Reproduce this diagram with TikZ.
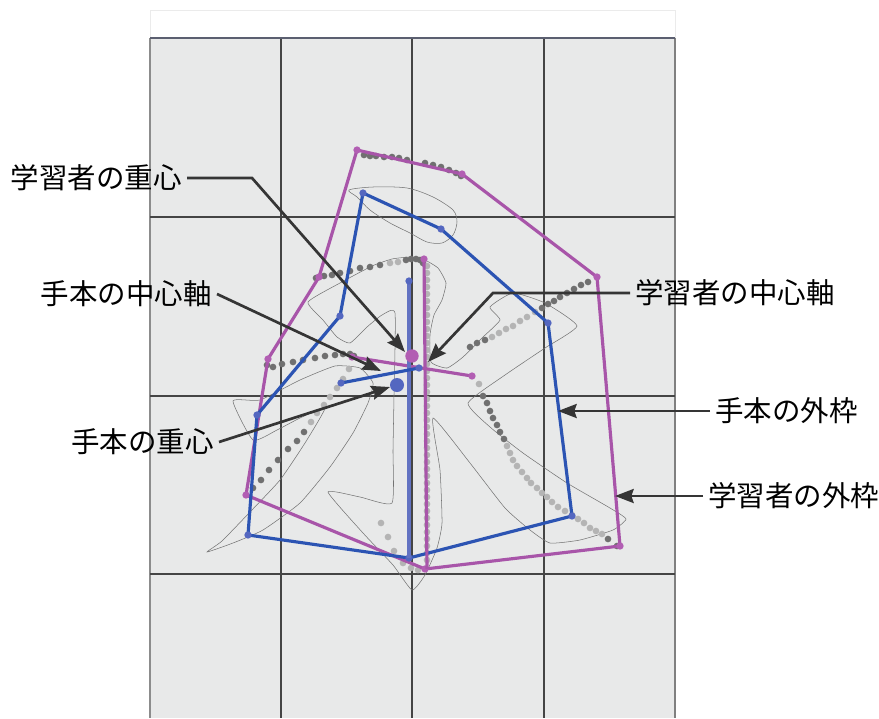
\documentclass[tikz,border=0pt]{standalone}
\usepackage{fontspec}
\newfontfamily\jpfont{Noto Sans CJK JP}
\usepackage{tikz}
\usetikzlibrary{arrows.meta}

\definecolor{learnerc}{HTML}{A855A9}
\definecolor{learnerdot}{HTML}{B25EB3}
\definecolor{samplec}{HTML}{2C54B3}
\definecolor{sampledot}{HTML}{5467C0}
\definecolor{sampleaxis}{HTML}{6272C2}
\definecolor{panelc}{HTML}{E8E9E9}
\definecolor{gridc}{HTML}{454545}
\definecolor{topline}{HTML}{5B5F70}
\definecolor{dotdk}{HTML}{707070}
\definecolor{dotlt}{HTML}{B4B4B4}
\definecolor{calloutc}{HTML}{353535}

\begin{document}
\begin{tikzpicture}[x=0.3mm,y=-0.3mm,
  lbl/.style={font=\jpfont\fontsize{24.3}{29}\selectfont,inner ysep=0pt,inner xsep=1.5mm},
  callout/.style={calloutc,line width=2.3pt,-{Stealth[length=5.6mm,width=4.2mm,inset=0.7mm]}},
  learner/.style={learnerc,line width=2.7pt,line join=round},
  sample/.style={samplec,line width=2.7pt,line join=round},
  gridline/.style={gridc,line width=0.9pt},
  brush/.style={black!55,line width=0.45pt}]
\fill[white] (0,0) rectangle (879,718);
\useasboundingbox (0,0) rectangle (879,718);

% panel and grid
\draw[black!8,line width=0.6pt] (150,10) rectangle (675,38);
\fill[panelc] (150,38) rectangle (675,718);
\draw[black!45,line width=0.9pt] (150,38)--(150,718);
\draw[black!50,line width=1.4pt] (675,38)--(675,718);
\foreach \gx in {281,412,544} \draw[gridline] (\gx,38)--(\gx,718);
\foreach \gy in {217,396,574} \draw[gridline] (150,\gy)--(675,\gy);
\draw[topline,line width=1.6pt] (150,38)--(675,38);

% outline of the model character
\draw[brush] plot[smooth cycle,tension=0.5] coordinates {(349,190) (373,187) (407,188) (433,197)
  (453,210) (457,222) (453,235) (442,243) (427,242) (410,233) (390,223) (370,210) (357,197)};
\draw[brush] plot[smooth cycle,tension=0.3] coordinates {(308,302) (340,283) (372,266) (392,259)
  (410,257) (423,259) (438,268) (446,283) (442,300) (434,315) (430,335) (431,362) (447,368)
  (463,357) (483,337) (500,320) (490,307) (513,293) (545,303) (577,326) (545,348) (505,375)
  (468,403) (490,427) (523,453) (567,483) (610,508) (626,519) (613,530) (580,540) (550,543)
  (530,530) (505,508) (470,463) (433,418) (440,470) (442,523) (437,548) (425,575) (412,590)
  (393,565) (363,533) (328,492) (360,497) (392,503) (393,450) (394,395) (395,313) (382,315)
  (367,327) (350,343) (337,337) (323,320)};
\draw[brush] plot[smooth cycle,tension=0.3] coordinates {(233,401) (260,400) (300,380) (335,366)
  (360,368) (373,383) (368,403) (353,433) (330,467) (300,503) (263,530) (233,543) (207,552)
  (222,541) (250,512) (280,480) (305,443) (325,408) (300,418) (277,430) (253,440)};

% learner's brush points
\foreach \px/\py in {364/155,370/156,376/156,384/157,392/157,399/158,407/160,425/163,433/165,
  441/167,449/170,456/173,461/176,316/278,324/276,332/275,340/273,350/271,360/268,370/267,
  380/265,406/260,411/259,416/259,420/260,423/263,267/365,273/367,282/364,293/362,303/360,
  315/358,325/356,335/355,343/354,350/354,354/356,304/432,297/441,288/449,278/460,269/470,
  261/480,253/488,470/347,477/343,485/340,542/308,548/304,554/301,560/297,567/293,574/289,
  581/285,588/282,483/396,487/403,490/411,493/418,497/425,500/432,504/439,608/539,617/546}
  \fill[dotdk] (\px,\py) circle (1mm);
\foreach \py in {266,273,...,566} \fill[dotlt] (427,\py) circle (1mm);
\foreach \px/\py in {390/263,398/262,349/369,343/379,337/388,330/397,324/405,317/413,311/422,
  381/523,388/537,394/551,403/563,411/568,418/570,492/337,499/333,506/329,513/326,520/321,
  527/317,535/312,479/384,507/446,510/453,513/460,517/466,522/472,527/478,531/483,537/488,
  542/493,547/497,552/502,558/507,565/511,572/515,578/519,584/523,590/528,596/531,602/534}
  \fill[dotlt] (\px,\py) circle (1mm);

% outer frames
\draw[learner] (357,150)--(462,174)--(597,277)--(620,546)--(425,569)--(246,495)--(268,359)--(319,277)--cycle;
\foreach \px/\py in {357/150,462/174,597/277,620/546,425/569,246/495,268/359,319/277}
  \fill[learnerdot] (\px,\py) circle (1.1mm);
\draw[sample] (363,193)--(441,229)--(548,323)--(572,516)--(409,558)--(248,535)--(257,415)--(340,316)--cycle;
\foreach \px/\py in {363/193,441/229,548/323,572/516,409/558,248/535,257/415,340/316}
  \fill[sampledot] (\px,\py) circle (1.1mm);

% centre axes
\draw[learner] (424,259)--(427,569);
\draw[learner] (352,357)--(472,376);
\foreach \px/\py in {424/259,352/357,472/376} \fill[learnerdot] (\px,\py) circle (1.1mm);
\draw[sampleaxis,line width=2.8pt] (409,281)--(409,558);
\draw[sample] (341,383)--(419,368);
\foreach \px/\py in {409/281,341/383,419/368} \fill[sampledot] (\px,\py) circle (1.1mm);

% centroids
\fill[learnerdot] (412,356) circle (2mm);
\fill[sampledot] (397,385) circle (2.1mm);

% labels and callouts
\coordinate (lgc-bend) at (252,178);
\coordinate (lgc-tip) at (405,352);
\coordinate (sax-tip) at (381,371);
\coordinate (lax-bend) at (493,293);
\coordinate (lax-tip) at (428,362);
\coordinate (smc-tip) at (390,387);
\coordinate (smf-tip) at (558,411);
\coordinate (lgf-tip) at (615,496);

\node[lbl,anchor=east] (lgc-lbl) at (187,178) {学習者の重心};
\node[lbl,anchor=east] (sax-lbl) at (217,294) {手本の中心軸};
\node[lbl,anchor=east] (smc-lbl) at (219,442) {手本の重心};
\node[lbl,anchor=west] (lax-lbl) at (630,293) {学習者の中心軸};
\node[lbl,anchor=west] (smf-lbl) at (710,411) {手本の外枠};
\node[lbl,anchor=west] (lgf-lbl) at (703,496) {学習者の外枠};

\draw[callout] (lgc-lbl.east)--(lgc-bend)--(lgc-tip);
\draw[callout] (sax-lbl.east)--(sax-tip);
\draw[callout] (lax-lbl.west)--(lax-bend)--(lax-tip);
\draw[callout] (smc-lbl.east)--(smc-tip);
\draw[callout] (smf-lbl.west)--(smf-tip);
\draw[callout] (lgf-lbl.west)--(lgf-tip);
\end{tikzpicture}
\end{document}
